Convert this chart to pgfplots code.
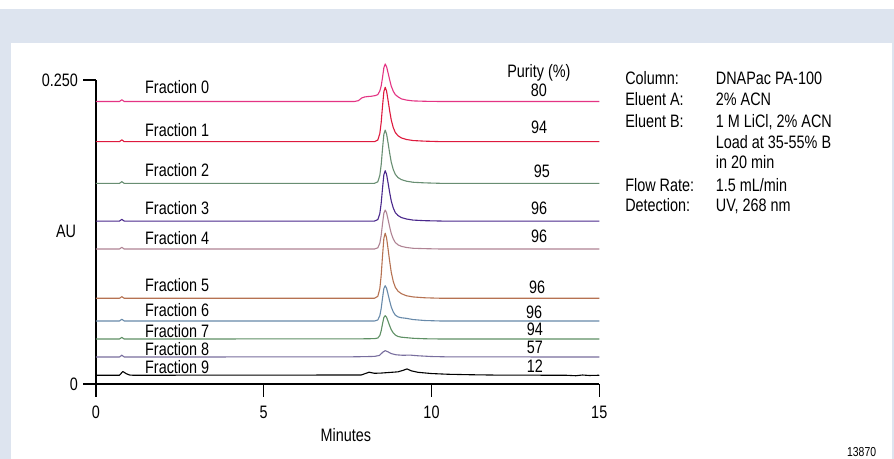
\documentclass[border=0pt]{standalone}
\usepackage{pgfplots}
\pgfplotsset{compat=1.18}
\usepackage{fontspec}
\setmainfont{Liberation Sans}[FakeStretch=0.8]

\definecolor{panelblue}{RGB}{221,228,239}
\definecolor{fzero}{RGB}{228,52,132}
\definecolor{fone}{RGB}{222,26,62}
\definecolor{ftwo}{RGB}{104,142,114}
\definecolor{fthree}{RGB}{74,40,140}
\definecolor{ffour}{RGB}{176,132,148}
\definecolor{ffive}{RGB}{182,114,82}
\definecolor{fsix}{RGB}{104,138,170}
\definecolor{fseven}{RGB}{94,144,100}
\definecolor{feight}{RGB}{120,110,158}

\begin{document}
\begin{tikzpicture}
% page frame and panel (origin = axis origin)
\useasboundingbox (-96bp,-75bp) rectangle (798bp,384bp);
\fill[white] (-96bp,-75bp) rectangle (798bp,384bp);
\fill[panelblue] (-96bp,341bp) rectangle (798bp,375bp);
\fill[panelblue] (-96bp,-75bp) rectangle (-85bp,341bp);
\fill[panelblue] (796bp,-75bp) rectangle (798bp,341bp);

\begin{axis}[
  at={(0,0)}, anchor=origin,
  x=33.55bp, y=1216bp,
  xmin=0, xmax=15, ymin=0, ymax=0.25,
  axis lines=left,
  axis line style={-, line width=1.3bp},
  clip=false,
  font=\fontsize{18bp}{21bp}\selectfont,
  /pgf/number format/assume math mode=true,
  xtick={0,5,10,15},
  ytick={0,0.25}, yticklabels={0,0.250},
  tick align=outside,
  major tick length=12.5bp,
  tick style={line width=1.3bp, black},
  xticklabel style={yshift=-6bp},
  yticklabel style={xshift=-2bp},
  every axis plot/.append style={line width=1.1bp, line join=round},
]

% Fraction 0
\addplot[fzero] coordinates {(0,.2323)(0.70,.2323)(0.77,.2338)(0.84,.2323)(7.70,.2323)(7.82,.2330)(7.92,.2352)(8.00,.2360)(8.10,.2364)(8.20,.2366)(8.33,.2372)(8.40,.2380)(8.46,.2410)(8.50,.2450)(8.54,.2520)(8.58,.2600)(8.62,.2632)(8.66,.2610)(8.70,.2565)(8.75,.2505)(8.80,.2450)(8.86,.2408)(8.92,.2380)(9.00,.2362)(9.10,.2345)(9.25,.2335)(9.45,.2328)(9.80,.2325)(10.3,.2323)(15,.2323)};
% Fraction 1
\addplot[fone] coordinates {(0,.1993)(0.70,.1993)(0.77,.2008)(0.84,.1993)(8.30,.1993)(8.40,.2006)(8.46,.2060)(8.50,.2150)(8.54,.2284)(8.58,.2404)(8.62,.2440)(8.66,.2409)(8.70,.2342)(8.75,.2252)(8.80,.2172)(8.86,.2109)(8.92,.2069)(9.00,.2042)(9.10,.2024)(9.25,.2011)(9.45,.2002)(9.80,.1997)(10.3,.1993)(15,.1993)};
% Fraction 2
\addplot[ftwo] coordinates {(0,.1650)(0.70,.1650)(0.77,.1664)(0.84,.1650)(8.30,.1650)(8.40,.1663)(8.46,.1716)(8.50,.1803)(8.54,.1935)(8.58,.2053)(8.62,.2088)(8.66,.2057)(8.70,.1992)(8.75,.1904)(8.80,.1825)(8.86,.1764)(8.92,.1725)(9.00,.1698)(9.10,.1681)(9.25,.1668)(9.45,.1659)(9.80,.1654)(10.3,.1650)(15,.1650)};
% Fraction 3
\addplot[fthree] coordinates {(0,.1340)(0.70,.1340)(0.77,.1354)(0.84,.1340)(8.30,.1340)(8.40,.1352)(8.46,.1402)(8.50,.1485)(8.54,.1609)(8.58,.1721)(8.62,.1754)(8.66,.1725)(8.70,.1663)(8.75,.1580)(8.80,.1506)(8.86,.1448)(8.92,.1410)(9.00,.1386)(9.10,.1369)(9.25,.1357)(9.45,.1348)(9.80,.1343)(10.3,.1340)(15,.1340)};
% Fraction 4
\addplot[ffour] coordinates {(0,.1110)(0.70,.1110)(0.77,.1124)(0.84,.1110)(8.30,.1110)(8.40,.1120)(8.46,.1158)(8.50,.1222)(8.54,.1318)(8.58,.1404)(8.62,.1430)(8.66,.1408)(8.70,.1360)(8.75,.1296)(8.80,.1238)(8.86,.1193)(8.92,.1164)(9.00,.1145)(9.10,.1132)(9.25,.1123)(9.45,.1116)(9.80,.1113)(10.3,.1110)(15,.1110)};
% Fraction 5
\addplot[ffive] coordinates {(0,.0705)(0.70,.0705)(0.77,.0718)(0.84,.0705)(8.30,.0705)(8.40,.0721)(8.46,.0785)(8.50,.0892)(8.54,.1053)(8.58,.1197)(8.62,.1240)(8.66,.1203)(8.70,.1122)(8.75,.1015)(8.80,.0919)(8.86,.0844)(8.92,.0796)(9.00,.0764)(9.10,.0743)(9.25,.0726)(9.45,.0716)(9.80,.0709)(10.3,.0705)(15,.0705)};
% Fraction 6
\addplot[fsix] coordinates {(0,.0518)(0.70,.0518)(0.77,.0533)(0.84,.0518)(8.30,.0518)(8.40,.0527)(8.46,.0562)(8.50,.0620)(8.54,.0707)(8.58,.0785)(8.62,.0808)(8.66,.0788)(8.70,.0744)(8.75,.0686)(8.80,.0634)(8.86,.0593)(8.92,.0567)(9.00,.0552)(9.10,.0545)(9.25,.0540)(9.45,.0530)(9.80,.0522)(10.3,.0518)(15,.0518)};
% Fraction 7
\addplot[fseven] coordinates {(0,.0370)(0.70,.0370)(0.77,.0383)(0.84,.0370)(7.80,.0371)(8.30,.0373)(8.40,.0378)(8.46,.0399)(8.50,.0437)(8.54,.0495)(8.58,.0547)(8.62,.0562)(8.66,.0549)(8.70,.0520)(8.75,.0481)(8.80,.0447)(8.86,.0420)(8.92,.0403)(9.00,.0391)(9.10,.0385)(9.25,.0381)(9.45,.0376)(9.80,.0372)(10.3,.0370)(15,.0370)};
% Fraction 8
\addplot[feight] coordinates {(0,.0222)(0.70,.0222)(0.77,.0237)(0.84,.0222)(7.50,.0223)(8.00,.0225)(8.30,.0227)(8.45,.0235)(8.55,.0262)(8.62,.0274)(8.70,.0265)(8.80,.0250)(8.95,.0240)(9.15,.0236)(9.35,.0238)(9.60,.0232)(10.0,.0226)(10.5,.0223)(15,.0222)};
% Fraction 9
\addplot[black] coordinates {(0,.0072)(0.70,.0072)(0.80,.0103)(0.90,.0085)(1.00,.0074)(1.10,.0072)(7.90,.0074)(8.05,.0088)(8.14,.0097)(8.30,.0088)(8.50,.0090)(8.70,.0094)(9.00,.0100)(9.15,.0112)(9.27,.0124)(9.40,.0108)(9.60,.0096)(10.0,.0086)(10.5,.0080)(11.2,.0076)(12.0,.0073)(14.0,.0072)(14.3,.0068)(14.5,.0074)(14.7,.0070)(15,.0072)};

% fraction names
\begin{scope}[every node/.style={anchor=base west, inner sep=0pt}]
\node at (axis cs:1.46,.2385) {Fraction 0};
\node at (axis cs:1.46,.2039) {Fraction 1};
\node at (axis cs:1.46,.1705) {Fraction 2};
\node at (axis cs:1.46,.1390) {Fraction 3};
\node at (axis cs:1.46,.1151) {Fraction 4};
\node at (axis cs:1.46,.0759) {Fraction 5};
\node at (axis cs:1.46,.0553) {Fraction 6};
\node at (axis cs:1.46,.0384) {Fraction 7};
\node at (axis cs:1.46,.0233) {Fraction 8};
\node at (axis cs:1.46,.0088) {Fraction 9};
\end{scope}

% purity values
\begin{scope}[every node/.style={anchor=base, inner sep=0pt}]
\node at (axis cs:13.20,.2521) {Purity (\%)};
\node at (axis cs:13.20,.2368) {80};
\node at (axis cs:13.21,.2062) {94};
\node at (axis cs:13.29,.1700) {95};
\node at (axis cs:13.21,.1390) {96};
\node at (axis cs:13.21,.1162) {96};
\node at (axis cs:13.15,.0746) {96};
\node at (axis cs:13.06,.0540) {96};
\node at (axis cs:13.08,.0395) {94};
\node at (axis cs:13.08,.0247) {57};
\node at (axis cs:13.08,.0093) {12};
\end{scope}

% conditions
\begin{scope}[every node/.style={anchor=base west, inner sep=0pt}]
\node at (axis cs:15.77,.2459) {Column:};
\node at (axis cs:18.47,.2459) {DNAPac PA-100};
\node at (axis cs:15.77,.2294) {Eluent A:};
\node at (axis cs:18.47,.2294) {2\% ACN};
\node at (axis cs:15.77,.2108) {Eluent B:};
\node at (axis cs:18.47,.2108) {1 M LiCl, 2\% ACN};
\node at (axis cs:18.47,.1935) {Load at 35-55\% B};
\node at (axis cs:18.47,.1771) {in 20 min};
\node at (axis cs:15.77,.1585) {Flow Rate:};
\node at (axis cs:18.47,.1585) {1.5 mL/min};
\node at (axis cs:15.77,.1417) {Detection:};
\node at (axis cs:18.47,.1417) {UV, 268 nm};
\end{scope}

% axis titles
\node[anchor=base, inner sep=0pt] at (axis cs:-0.894,.1201) {AU};
\node[anchor=base, inner sep=0pt] at (axis cs:7.45,-.0469) {Minutes};
\node[anchor=base, inner sep=0pt, font=\fontsize{13bp}{15bp}\selectfont] at (axis cs:22.82,-.0600) {13870};
\end{axis}
\end{tikzpicture}
\end{document}
